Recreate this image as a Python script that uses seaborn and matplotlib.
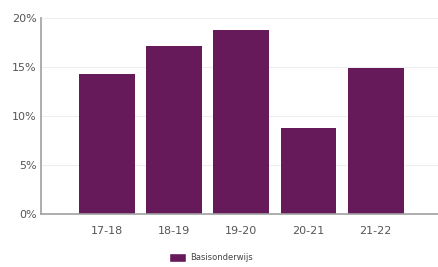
import numpy as np
import pandas as pd
import matplotlib
matplotlib.use('Agg')
import matplotlib.pyplot as plt
import seaborn as sns
from matplotlib.patches import Patch

# data
jaren = ['17-18', '18-19', '19-20', '20-21', '21-22']
basisonderwijs = [14.3, 17.1, 18.8, 8.8, 14.9]
yticks = [0, 5, 10, 15, 20]

df = pd.DataFrame({'jaar': jaren, 'waarde': basisonderwijs})

sns.set_theme(style='white')
plt.rcParams['font.family'] = ['DejaVu Sans']
kleur = '#661a5a'

fig = plt.figure(figsize=(4.39, 2.67), dpi=100)
ax = fig.add_axes([0.093, 0.199, 0.907, 0.734])

sns.barplot(data=df, x='jaar', y='waarde', color=kleur, width=0.83,
            saturation=1, linewidth=0, ax=ax, zorder=2)

ax.set_ylim(0, 20)
ax.set_xlim(-0.98, 4.94)
ax.set_yticks(yticks)
ax.set_yticklabels([f'{t}%' for t in yticks], color='#555555', fontsize=8)
ax.tick_params(axis='x', colors='#555555', labelsize=8, length=0, pad=9)
ax.tick_params(axis='y', length=0, pad=3)
ax.set_axisbelow(True)
ax.yaxis.grid(True, color='#eeeeee', linewidth=0.8)
ax.set_xlabel('')
ax.set_ylabel('')

for s in ['top', 'right']:
    ax.spines[s].set_visible(False)
for s in ['left', 'bottom']:
    ax.spines[s].set_color('#a0a0a0')
    ax.spines[s].set_linewidth(1.2)
    ax.spines[s].set_zorder(3)

handles = [Patch(facecolor=kleur, label='Basisonderwijs')]
fig.legend(handles=handles, loc='center', bbox_to_anchor=(0.48, 0.035),
           frameon=False, fontsize=6, handlelength=2.0, handleheight=1.2,
           handletextpad=0.5, labelcolor='#444444')

fig.savefig('out.png', dpi=100)
